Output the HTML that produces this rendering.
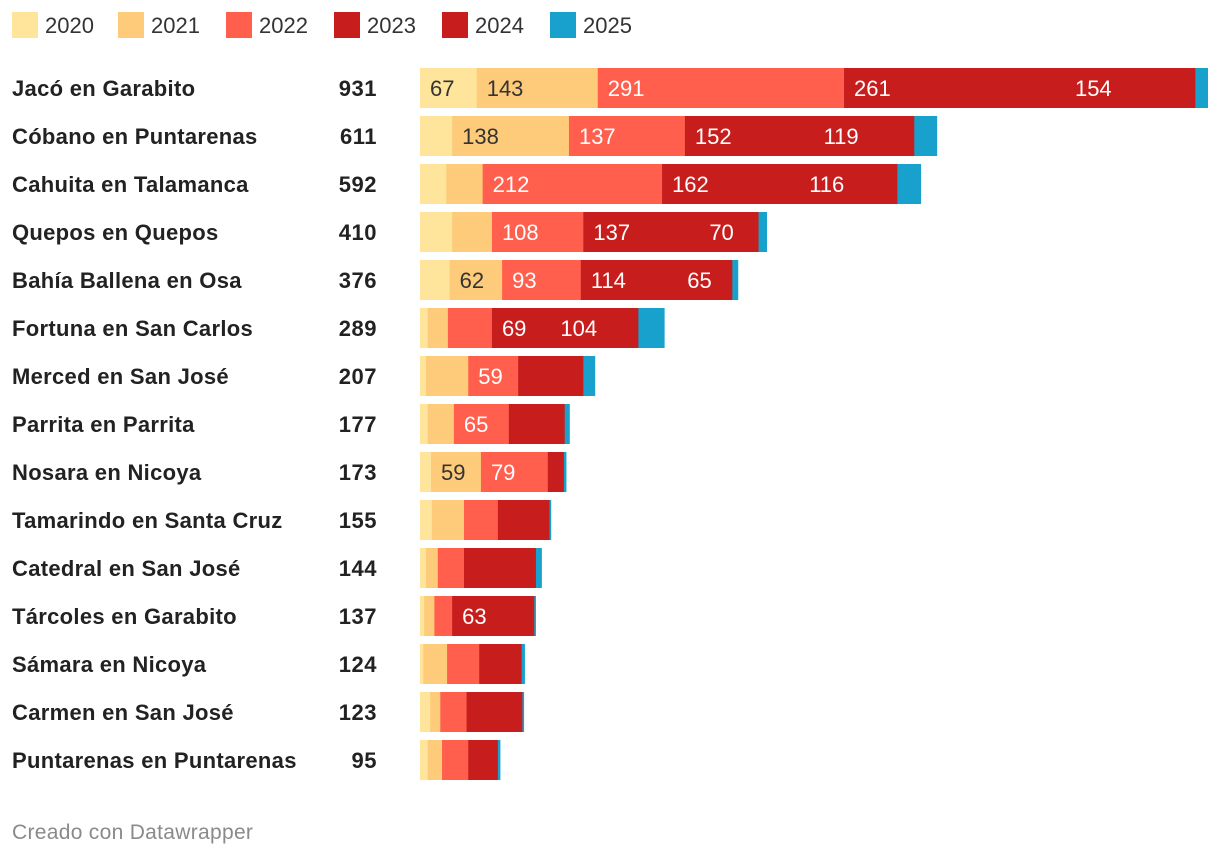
<!DOCTYPE html>
<html><head><meta charset="utf-8">
<style>
body{margin:0;background:#fff;width:1220px;height:858px;overflow:hidden;font-family:"Liberation Sans",sans-serif;}
svg{display:block}
</style></head>
<body>
<svg id="chart" width="1220" height="858"></svg>
<script>
const categories=["Jacó en Garabito","Cóbano en Puntarenas","Cahuita en Talamanca","Quepos en Quepos","Bahía Ballena en Osa","Fortuna en San Carlos","Merced en San José","Parrita en Parrita","Nosara en Nicoya","Tamarindo en Santa Cruz","Catedral en San José","Tárcoles en Garabito","Sámara en Nicoya","Carmen en San José","Puntarenas en Puntarenas"];
const seriesNames=["2020","2021","2022","2023","2024","2025"];
const v2020=[67,38,31,38,35,9,7,9,13,14,7,5,4,12,9];
const v2021=[143,138,43,47,62,24,50,31,59,38,14,12,28,12,17];
const v2022=[291,137,212,108,93,52,59,65,79,40,31,21,38,31,31];
const v2023=[261,152,162,137,114,69,39,30,9,30,45,63,25,33,17];
const v2024=[154,119,116,70,65,104,38,36,10,31,40,34,25,33,18];
const v2025=[15,27,28,10,7,31,14,6,3,2,7,2,4,2,3];
const colors=["#fee59b","#fecb7a","#ff5f4c","#c71e1d","#c71e1d","#18a1cd"];
const textColors=["#333","#333","#fff","#fff","#fff","#fff"];
const series=[v2020,v2021,v2022,v2023,v2024,v2025];
const NS="http://www.w3.org/2000/svg";
const svg=document.getElementById("chart");
const x0=420, maxTotal=931, maxW=788;
const xs=v=>v*maxW/maxTotal;
const rowY=i=>68+i*48;
function mk(tag,attrs,txt){const e=document.createElementNS(NS,tag);for(const k in attrs)e.setAttribute(k,attrs[k]);if(txt!==undefined)e.textContent=txt;svg.appendChild(e);return e;}
let lx=12;
const lw=[106,108,108,108,108,100];
seriesNames.forEach((n,s)=>{
  const r=mk("rect",{x:lx,y:12,width:26,height:26,fill:colors[s]});
  
  
  const t=mk("text",{x:lx+33,y:33,"font-size":22,fill:"#333"},n);
  
  
  lx+=lw[s];
});
categories.forEach((c,i)=>{
  const y=rowY(i);
  const name=mk("text",{x:12,y:y+28,"font-size":22,"font-weight":"bold",fill:"#222","letter-spacing":"0.3"},c);
  
  
  let total=0;series.forEach(a=>total+=a[i]);
  const tt=mk("text",{x:377,y:y+28,"font-size":22,"font-weight":"bold",fill:"#222","text-anchor":"end","letter-spacing":"0.5"},total);
  
  
  let cum=0;
  series.forEach((a,s)=>{
    const v=a[i];
    const ov=(s<series.length-1)?0.8:0;
    const r=mk("rect",{x:x0+xs(cum),y:y,width:Math.max(0,xs(v))+ov,height:40,fill:colors[s]});
    
    
    cum+=v;
  });
  cum=0;
  series.forEach((a,s)=>{
    const v=a[i];
    if(v>=55){
      const t=mk("text",{x:x0+xs(cum)+10,y:y+28,"font-size":22,fill:textColors[s]},v);
      
      
    }
    cum+=v;
  });
});
const f=mk("text",{x:12,y:839,"font-size":21,fill:"#8a8a8a","letter-spacing":"0.3"},"Creado con Datawrapper");


</script>
</body></html>
